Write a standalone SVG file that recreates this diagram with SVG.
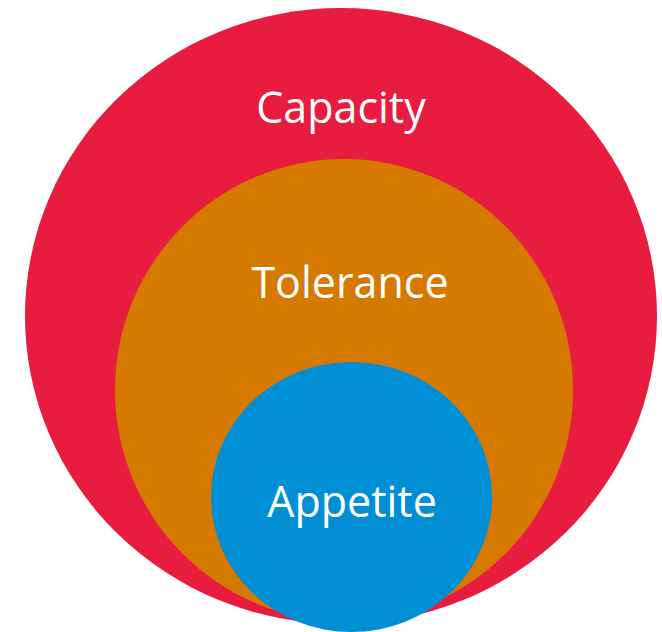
<svg xmlns="http://www.w3.org/2000/svg" width="662" height="632" viewBox="0 0 662 632">
  <style>
    .label { font-family: "Open Sans", "DejaVu Sans", sans-serif; font-size: 43px; fill: #ffffff; text-anchor: middle; }
  </style>
  <rect width="662" height="632" fill="#ffffff"/>
  <g id="capacity">
    <ellipse cx="341" cy="316" rx="316" ry="308" fill="#E71C3E"/>
    <text class="label" x="341" y="123">Capacity</text>
  </g>
  <g id="tolerance">
    <ellipse cx="344" cy="390" rx="229" ry="231" fill="#D67900"/>
    <text class="label" x="350" y="298">Tolerance</text>
  </g>
  <g id="appetite">
    <ellipse cx="351.5" cy="497" rx="140.5" ry="135" fill="#008ED4"/>
    <text class="label" x="352" y="517">Appetite</text>
  </g>
</svg>
